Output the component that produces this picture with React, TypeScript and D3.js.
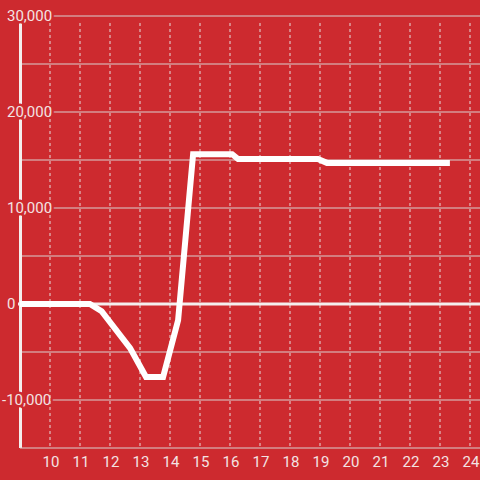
import React from "react";
import * as d3 from "d3";

const hours = [9, 11.33, 11.72, 12.67, 13.2, 13.77, 14.27, 14.77, 16.07, 16.27, 18.93, 19.23, 23.33];
const values = [0, 0, -750, -4600, -7600, -7600, -1700, 15600, 15600, 15100, 15100, 14700, 14700];
const xTicks = [10, 11, 12, 13, 14, 15, 16, 17, 18, 19, 20, 21, 22, 23, 24];
const yGrid = [30000, 25000, 20000, 15000, 10000, 5000, -5000, -10000];
const yLabels = [30000, 20000, 10000, 0, -10000];

const W = 480, H = 480;
const BG = "#cd2a2f";
const TXT = "#f3e3e3";

export default function App() {
  const x = d3.scaleLinear().domain([9, 24]).range([20, 470]);
  const y = d3.scaleLinear().domain([-15000, 30000]).range([448, 16]);
  const pts = hours.map((h, i) => [h, values[i]] as [number, number]);
  const line = d3.line<[number, number]>().x(d => x(d[0])).y(d => y(d[1]));
  const fmt = d3.format(",");
  return (
    <svg width={W} height={H} style={{ position: "absolute", left: 0, top: 0, fontFamily: "Roboto, sans-serif" }}>
      <rect width={W} height={H} fill={BG} />
      {yGrid.map(v => (
        <line key={"g" + v} x1={20} x2={W} y1={y(v)} y2={y(v)} stroke="#d9d0d0" strokeWidth={1} />
      ))}
      <line x1={20.5} x2={20.5} y1={16} y2={448} stroke="#f4eeee" strokeWidth={3} />
      {yLabels.map(v => (
        <text key={"l" + v} x={v < 0 ? 2 : 7} y={y(v)} dy="0.35em" fontSize={15} fill={TXT}
          stroke={BG} strokeWidth={5} style={{ paintOrder: "stroke" }} textAnchor="start">
          {fmt(v).replace("−", "-")}
        </text>
      ))}
      {xTicks.map(t => (
        <line key={"v" + t} x1={x(t)} x2={x(t)} y1={23} y2={448} stroke="#e6dcdc" strokeWidth={1} strokeDasharray="3,3" />
      ))}
      <line x1={20} x2={W} y1={448} y2={448} stroke="#d9d0d0" strokeWidth={1} />
      <line x1={18} x2={W} y1={y(0)} y2={y(0)} stroke="#f4eeee" strokeWidth={3} />
      <path d={line(pts) || ""} fill="none" stroke="#ffffff" strokeWidth={6} strokeLinejoin="miter" />
      {xTicks.map(t => (
        <text key={"x" + t} x={x(t) + 1} y={462} dy="0.35em" fontSize={15} fill={TXT} textAnchor="middle">
          {t}
        </text>
      ))}
    </svg>
  );
}
